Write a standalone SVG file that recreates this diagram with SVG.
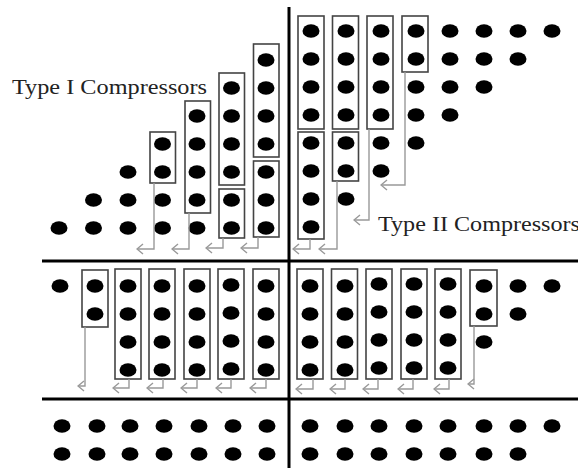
<svg xmlns="http://www.w3.org/2000/svg" width="578" height="468" viewBox="0 0 578 468">
<style>
.d{fill:#000}
.b{fill:none;stroke:#444;stroke-width:1.6}
.a{fill:none;stroke:#999;stroke-width:1.4;marker-end:url(#ch)}
.ax{stroke:#000;stroke-width:3;fill:none}
.t{font-family:"Liberation Serif","Times New Roman",serif;font-size:20px;fill:#222}
</style>
<defs>
<marker id="ch" viewBox="0 0 8 12" refX="7" refY="6" markerWidth="8" markerHeight="12" markerUnits="userSpaceOnUse" orient="auto">
<path d="M1,1 L7,6 L1,11" fill="none" stroke="#999" stroke-width="1.4"/>
</marker>
</defs>
<rect width="578" height="468" fill="#fff"/>
<g id="axes">
<line class="ax" x1="289" y1="7" x2="289" y2="468"/>
<line class="ax" x1="42" y1="261" x2="578" y2="261"/>
<line class="ax" x1="42" y1="399" x2="578" y2="399"/>
</g>
<g id="dots-top-left">
<ellipse class="d" cx="59" cy="228" rx="8.5" ry="6.8"/>
<ellipse class="d" cx="93.5" cy="228" rx="8.5" ry="6.8"/><ellipse class="d" cx="93.5" cy="200" rx="8.5" ry="6.8"/>
<ellipse class="d" cx="128" cy="228" rx="8.5" ry="6.8"/><ellipse class="d" cx="128" cy="200" rx="8.5" ry="6.8"/><ellipse class="d" cx="128" cy="172" rx="8.5" ry="6.8"/>
<ellipse class="d" cx="162.5" cy="228" rx="8.5" ry="6.8"/><ellipse class="d" cx="162.5" cy="200" rx="8.5" ry="6.8"/><ellipse class="d" cx="162.5" cy="172" rx="8.5" ry="6.8"/><ellipse class="d" cx="162.5" cy="144" rx="8.5" ry="6.8"/>
<ellipse class="d" cx="197" cy="228" rx="8.5" ry="6.8"/><ellipse class="d" cx="197" cy="200" rx="8.5" ry="6.8"/><ellipse class="d" cx="197" cy="172" rx="8.5" ry="6.8"/><ellipse class="d" cx="197" cy="144" rx="8.5" ry="6.8"/><ellipse class="d" cx="197" cy="116" rx="8.5" ry="6.8"/>
<ellipse class="d" cx="231.5" cy="228" rx="8.5" ry="6.8"/><ellipse class="d" cx="231.5" cy="200" rx="8.5" ry="6.8"/><ellipse class="d" cx="231.5" cy="172" rx="8.5" ry="6.8"/><ellipse class="d" cx="231.5" cy="144" rx="8.5" ry="6.8"/><ellipse class="d" cx="231.5" cy="116" rx="8.5" ry="6.8"/><ellipse class="d" cx="231.5" cy="88" rx="8.5" ry="6.8"/>
<ellipse class="d" cx="266" cy="228" rx="8.5" ry="6.8"/><ellipse class="d" cx="266" cy="200" rx="8.5" ry="6.8"/><ellipse class="d" cx="266" cy="172" rx="8.5" ry="6.8"/><ellipse class="d" cx="266" cy="144" rx="8.5" ry="6.8"/><ellipse class="d" cx="266" cy="116" rx="8.5" ry="6.8"/><ellipse class="d" cx="266" cy="88" rx="8.5" ry="6.8"/><ellipse class="d" cx="266" cy="60" rx="8.5" ry="6.8"/>
</g>
<g id="boxes-top-left">
<rect class="b" x="150" y="132" width="25.5" height="51"/>
<rect class="b" x="185" y="101" width="25.5" height="112"/>
<rect class="b" x="219" y="73" width="25.5" height="112"/>
<rect class="b" x="219" y="189" width="25.5" height="49"/>
<rect class="b" x="253.5" y="44" width="25.5" height="113"/>
<rect class="b" x="253.5" y="161" width="25.5" height="76"/>
</g>
<g id="dots-top-right">
<ellipse class="d" cx="311" cy="31" rx="8.5" ry="6.8"/><ellipse class="d" cx="311" cy="59" rx="8.5" ry="6.8"/><ellipse class="d" cx="311" cy="87" rx="8.5" ry="6.8"/><ellipse class="d" cx="311" cy="115" rx="8.5" ry="6.8"/><ellipse class="d" cx="311" cy="143" rx="8.5" ry="6.8"/><ellipse class="d" cx="311" cy="171" rx="8.5" ry="6.8"/><ellipse class="d" cx="311" cy="199" rx="8.5" ry="6.8"/><ellipse class="d" cx="311" cy="227" rx="8.5" ry="6.8"/>
<ellipse class="d" cx="346" cy="31" rx="8.5" ry="6.8"/><ellipse class="d" cx="346" cy="59" rx="8.5" ry="6.8"/><ellipse class="d" cx="346" cy="87" rx="8.5" ry="6.8"/><ellipse class="d" cx="346" cy="115" rx="8.5" ry="6.8"/><ellipse class="d" cx="346" cy="143" rx="8.5" ry="6.8"/><ellipse class="d" cx="346" cy="171" rx="8.5" ry="6.8"/><ellipse class="d" cx="346" cy="199" rx="8.5" ry="6.8"/>
<ellipse class="d" cx="381" cy="31" rx="8.5" ry="6.8"/><ellipse class="d" cx="381" cy="59" rx="8.5" ry="6.8"/><ellipse class="d" cx="381" cy="87" rx="8.5" ry="6.8"/><ellipse class="d" cx="381" cy="115" rx="8.5" ry="6.8"/><ellipse class="d" cx="381" cy="143" rx="8.5" ry="6.8"/><ellipse class="d" cx="381" cy="171" rx="8.5" ry="6.8"/>
<ellipse class="d" cx="416" cy="31" rx="8.5" ry="6.8"/><ellipse class="d" cx="416" cy="59" rx="8.5" ry="6.8"/><ellipse class="d" cx="416" cy="87" rx="8.5" ry="6.8"/><ellipse class="d" cx="416" cy="115" rx="8.5" ry="6.8"/><ellipse class="d" cx="416" cy="143" rx="8.5" ry="6.8"/>
<ellipse class="d" cx="450" cy="31" rx="8.5" ry="6.8"/><ellipse class="d" cx="450" cy="59" rx="8.5" ry="6.8"/><ellipse class="d" cx="450" cy="87" rx="8.5" ry="6.8"/><ellipse class="d" cx="450" cy="115" rx="8.5" ry="6.8"/>
<ellipse class="d" cx="484" cy="31" rx="8.5" ry="6.8"/><ellipse class="d" cx="484" cy="59" rx="8.5" ry="6.8"/><ellipse class="d" cx="484" cy="87" rx="8.5" ry="6.8"/>
<ellipse class="d" cx="518" cy="31" rx="8.5" ry="6.8"/><ellipse class="d" cx="518" cy="59" rx="8.5" ry="6.8"/>
<ellipse class="d" cx="552" cy="31" rx="8.5" ry="6.8"/>
</g>
<g id="boxes-top-right">
<rect class="b" x="298" y="16" width="26" height="113"/>
<rect class="b" x="298" y="132" width="26" height="107"/>
<rect class="b" x="332.5" y="16" width="26" height="113"/>
<rect class="b" x="332.5" y="132" width="26" height="49"/>
<rect class="b" x="367" y="16" width="26" height="113"/>
<rect class="b" x="402" y="16" width="26" height="56"/>
</g>
<g id="dots-middle-left">
<ellipse class="d" cx="60" cy="286" rx="8.5" ry="6.8"/>
<ellipse class="d" cx="95" cy="286" rx="8.5" ry="6.8"/><ellipse class="d" cx="95" cy="314" rx="8.5" ry="6.8"/>
<ellipse class="d" cx="128" cy="286" rx="8.5" ry="6.8"/><ellipse class="d" cx="128" cy="314" rx="8.5" ry="6.8"/><ellipse class="d" cx="128" cy="342" rx="8.5" ry="6.8"/><ellipse class="d" cx="128" cy="370" rx="8.5" ry="6.8"/>
<ellipse class="d" cx="162" cy="286" rx="8.5" ry="6.8"/><ellipse class="d" cx="162" cy="314" rx="8.5" ry="6.8"/><ellipse class="d" cx="162" cy="342" rx="8.5" ry="6.8"/><ellipse class="d" cx="162" cy="370" rx="8.5" ry="6.8"/>
<ellipse class="d" cx="197" cy="286" rx="8.5" ry="6.8"/><ellipse class="d" cx="197" cy="314" rx="8.5" ry="6.8"/><ellipse class="d" cx="197" cy="342" rx="8.5" ry="6.8"/><ellipse class="d" cx="197" cy="370" rx="8.5" ry="6.8"/>
<ellipse class="d" cx="231" cy="285" rx="8.5" ry="6.8"/><ellipse class="d" cx="231" cy="313" rx="8.5" ry="6.8"/><ellipse class="d" cx="231" cy="341" rx="8.5" ry="6.8"/><ellipse class="d" cx="231" cy="369" rx="8.5" ry="6.8"/>
<ellipse class="d" cx="266" cy="286" rx="8.5" ry="6.8"/><ellipse class="d" cx="266" cy="314" rx="8.5" ry="6.8"/><ellipse class="d" cx="266" cy="342" rx="8.5" ry="6.8"/><ellipse class="d" cx="266" cy="370" rx="8.5" ry="6.8"/>
</g>
<g id="boxes-middle-left">
<rect class="b" x="82" y="270" width="26" height="57"/>
<rect class="b" x="115" y="269" width="26" height="110"/>
<rect class="b" x="149" y="269" width="26" height="110"/>
<rect class="b" x="184" y="269" width="26" height="110"/>
<rect class="b" x="218" y="269" width="26" height="110"/>
<rect class="b" x="253" y="269" width="26" height="110"/>
</g>
<g id="dots-middle-right">
<ellipse class="d" cx="310" cy="286" rx="8.5" ry="6.8"/><ellipse class="d" cx="310" cy="314" rx="8.5" ry="6.8"/><ellipse class="d" cx="310" cy="342" rx="8.5" ry="6.8"/><ellipse class="d" cx="310" cy="370" rx="8.5" ry="6.8"/>
<ellipse class="d" cx="345" cy="286" rx="8.5" ry="6.8"/><ellipse class="d" cx="345" cy="314" rx="8.5" ry="6.8"/><ellipse class="d" cx="345" cy="342" rx="8.5" ry="6.8"/><ellipse class="d" cx="345" cy="370" rx="8.5" ry="6.8"/>
<ellipse class="d" cx="379" cy="284" rx="8.5" ry="6.8"/><ellipse class="d" cx="379" cy="312" rx="8.5" ry="6.8"/><ellipse class="d" cx="379" cy="340" rx="8.5" ry="6.8"/><ellipse class="d" cx="379" cy="368" rx="8.5" ry="6.8"/>
<ellipse class="d" cx="414" cy="284" rx="8.5" ry="6.8"/><ellipse class="d" cx="414" cy="312" rx="8.5" ry="6.8"/><ellipse class="d" cx="414" cy="340" rx="8.5" ry="6.8"/><ellipse class="d" cx="414" cy="368" rx="8.5" ry="6.8"/>
<ellipse class="d" cx="448" cy="284" rx="8.5" ry="6.8"/><ellipse class="d" cx="448" cy="312" rx="8.5" ry="6.8"/><ellipse class="d" cx="448" cy="340" rx="8.5" ry="6.8"/><ellipse class="d" cx="448" cy="368" rx="8.5" ry="6.8"/>
<ellipse class="d" cx="484" cy="286" rx="8.5" ry="6.8"/><ellipse class="d" cx="484" cy="314" rx="8.5" ry="6.8"/><ellipse class="d" cx="484" cy="342" rx="8.5" ry="6.8"/>
<ellipse class="d" cx="518" cy="286" rx="8.5" ry="6.8"/><ellipse class="d" cx="518" cy="314" rx="8.5" ry="6.8"/>
<ellipse class="d" cx="552" cy="286" rx="8.5" ry="6.8"/>
</g>
<g id="boxes-middle-right">
<rect class="b" x="297" y="269" width="26" height="110"/>
<rect class="b" x="331.5" y="269" width="26" height="110"/>
<rect class="b" x="366" y="269" width="26" height="110"/>
<rect class="b" x="401" y="269" width="26" height="110"/>
<rect class="b" x="435" y="269" width="26" height="110"/>
<rect class="b" x="470" y="270" width="27" height="56"/>
</g>
<g id="dots-bottom">
<ellipse class="d" cx="62" cy="426" rx="8.5" ry="6.8"/><ellipse class="d" cx="97" cy="426" rx="8.5" ry="6.8"/><ellipse class="d" cx="130" cy="426" rx="8.5" ry="6.8"/><ellipse class="d" cx="164" cy="426" rx="8.5" ry="6.8"/><ellipse class="d" cx="199" cy="426" rx="8.5" ry="6.8"/><ellipse class="d" cx="233" cy="426" rx="8.5" ry="6.8"/><ellipse class="d" cx="267" cy="426" rx="8.5" ry="6.8"/>
<ellipse class="d" cx="62" cy="454" rx="8.5" ry="6.8"/><ellipse class="d" cx="97" cy="454" rx="8.5" ry="6.8"/><ellipse class="d" cx="130" cy="454" rx="8.5" ry="6.8"/><ellipse class="d" cx="164" cy="454" rx="8.5" ry="6.8"/><ellipse class="d" cx="199" cy="454" rx="8.5" ry="6.8"/><ellipse class="d" cx="233" cy="454" rx="8.5" ry="6.8"/><ellipse class="d" cx="267" cy="454" rx="8.5" ry="6.8"/>
<ellipse class="d" cx="310" cy="426" rx="8.5" ry="6.8"/><ellipse class="d" cx="345" cy="426" rx="8.5" ry="6.8"/><ellipse class="d" cx="379" cy="426" rx="8.5" ry="6.8"/><ellipse class="d" cx="414" cy="426" rx="8.5" ry="6.8"/><ellipse class="d" cx="448" cy="426" rx="8.5" ry="6.8"/><ellipse class="d" cx="484" cy="426" rx="8.5" ry="6.8"/><ellipse class="d" cx="518" cy="426" rx="8.5" ry="6.8"/><ellipse class="d" cx="552" cy="426" rx="8.5" ry="6.8"/>
<ellipse class="d" cx="310" cy="454" rx="8.5" ry="6.8"/><ellipse class="d" cx="345" cy="454" rx="8.5" ry="6.8"/><ellipse class="d" cx="379" cy="454" rx="8.5" ry="6.8"/><ellipse class="d" cx="414" cy="454" rx="8.5" ry="6.8"/><ellipse class="d" cx="448" cy="454" rx="8.5" ry="6.8"/><ellipse class="d" cx="484" cy="454" rx="8.5" ry="6.8"/><ellipse class="d" cx="518" cy="454" rx="8.5" ry="6.8"/>
</g>
<g id="connectors">
<path class="a" d="M154,183 V249 H137"/>
<path class="a" d="M189,213 V249 H172"/>
<path class="a" d="M223,238 V248 H206"/>
<path class="a" d="M258,237 V248 H241"/>
<path class="a" d="M310,239 V249 H293"/>
<path class="a" d="M337,181 V249 H319"/>
<path class="a" d="M369,129 V220 H354"/>
<path class="a" d="M405,72 V185 H381"/>
<path class="a" d="M85,327 V386 H78"/>
<path class="a" d="M129,379 V388 H113"/>
<path class="a" d="M163,379 V388 H147"/>
<path class="a" d="M197,379 V388 H181"/>
<path class="a" d="M231,379 V388 H216"/>
<path class="a" d="M266,379 V388 H250"/>
<path class="a" d="M313,379 V389 H296"/>
<path class="a" d="M345,379 V389 H330"/>
<path class="a" d="M378,379 V389 H363"/>
<path class="a" d="M413,379 V389 H398"/>
<path class="a" d="M449,379 V389 H434"/>
<path class="a" d="M474,326 V384 H468"/>
</g>
<g id="labels">
<text class="t" x="12" y="94" textLength="195" lengthAdjust="spacingAndGlyphs">Type I Compressors</text>
<text class="t" x="378" y="231" textLength="202" lengthAdjust="spacingAndGlyphs">Type II Compressors</text>
</g>
</svg>
